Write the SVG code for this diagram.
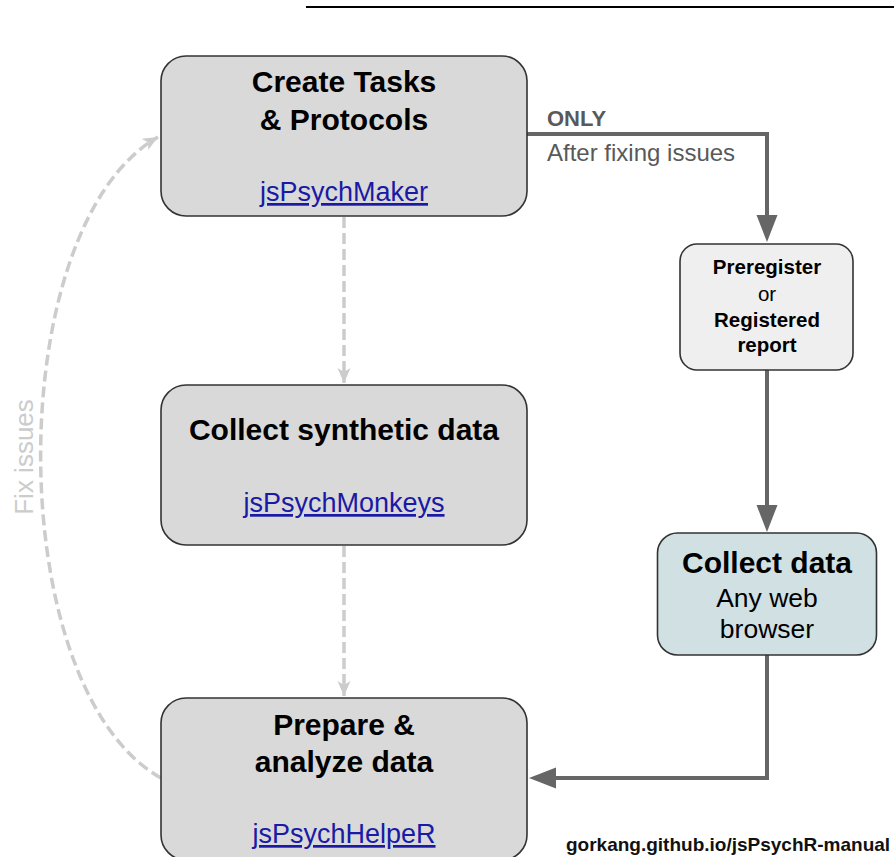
<svg xmlns="http://www.w3.org/2000/svg" width="894" height="857" viewBox="0 0 894 857">
<defs>
<style>
.box{fill:#d9d9d9;stroke:#333333;stroke-width:1.6}
.t{font-family:"Liberation Sans",Arial,sans-serif;text-anchor:middle;fill:#000}
.title{font-size:30px;font-weight:bold}
.link{font-size:27px;fill:#1a1aa6;text-decoration:underline}
.solid{fill:none;stroke:#666666;stroke-width:4}
.dash{fill:none;stroke:#cccccc;stroke-width:3.5;stroke-dasharray:11 5}
.lbl{font-family:"Liberation Sans",Arial,sans-serif;fill:#595959}
</style>
<marker id="arr" markerUnits="userSpaceOnUse" markerWidth="30" markerHeight="24" refX="2" refY="10.5" orient="auto">
<path d="M0,0 L27,10.5 L0,21 z" fill="#666666"/>
</marker>
<marker id="darr" markerUnits="userSpaceOnUse" markerWidth="18" markerHeight="14" refX="15" refY="6.5" orient="auto">
<path d="M0,0 L15,6.5 L0,13 L4,6.5 z" fill="#cccccc"/>
</marker>
</defs>
<rect width="894" height="857" fill="#ffffff"/>
<line x1="306" y1="7" x2="894" y2="7" stroke="#000" stroke-width="1.8"/>

<g id="connectors">
<path class="solid" d="M527,134 H767 V217" marker-end="url(#arr)"/>
<path class="solid" d="M767,370 V507" marker-end="url(#arr)"/>
<path class="solid" d="M767,655 V778 H554" marker-end="url(#arr)"/>
<path class="dash" d="M344,217 V383" marker-end="url(#darr)"/>
<path class="dash" d="M344,546 V696" marker-end="url(#darr)"/>
<path class="dash" d="M161,778 C1,688 1,227 158,137" marker-end="url(#darr)"/>
<text class="lbl" x="547" y="126" font-size="22" font-weight="bold">ONLY</text>
<text class="lbl" x="547" y="161" font-size="24">After fixing issues</text>
<text class="lbl" transform="translate(33,457) rotate(-90)" text-anchor="middle" font-size="26" fill="#cccccc" style="fill:#cccccc">Fix issues</text>
</g>

<g id="create-tasks">
<rect class="box" x="161" y="56" width="366" height="160" rx="25"/>
<text class="t title" x="344" y="92">Create Tasks</text>
<text class="t title" x="344" y="130">&amp; Protocols</text>
<text class="t link" x="344" y="201">jsPsychMaker</text>
</g>

<g id="collect-synthetic">
<rect class="box" x="161" y="385" width="366" height="160" rx="25"/>
<text class="t title" x="344" y="440">Collect synthetic data</text>
<text class="t link" x="344" y="512">jsPsychMonkeys</text>
</g>

<g id="prepare-analyze">
<rect class="box" x="161" y="698" width="366" height="162" rx="25"/>
<text class="t title" x="344" y="735">Prepare &amp;</text>
<text class="t title" x="344" y="772">analyze data</text>
<text class="t link" x="344" y="843">jsPsychHelpeR</text>
</g>

<g id="preregister">
<rect x="680" y="244" width="173" height="126" rx="17" fill="#efefef" stroke="#333333" stroke-width="1.6"/>
<text class="t" x="767" y="274" font-size="20.5" font-weight="bold">Preregister</text>
<text class="t" x="767" y="301" font-size="20.5">or</text>
<text class="t" x="767" y="327" font-size="20.5" font-weight="bold">Registered</text>
<text class="t" x="767" y="352" font-size="20.5" font-weight="bold">report</text>
</g>

<g id="collect-data">
<rect x="657.5" y="533" width="219" height="122" rx="20" fill="#d0e0e3" stroke="#333333" stroke-width="1.6"/>
<text class="t title" x="767" y="573">Collect data</text>
<text class="t" x="767" y="607" font-size="26.5">Any web</text>
<text class="t" x="767" y="638" font-size="26.5">browser</text>
</g>

<g id="footer">
<text x="566" y="851" font-family="'Liberation Sans',Arial,sans-serif" font-size="19" font-weight="bold" fill="#111">gorkang.github.io/jsPsychR-manual</text>
</g>
</svg>
